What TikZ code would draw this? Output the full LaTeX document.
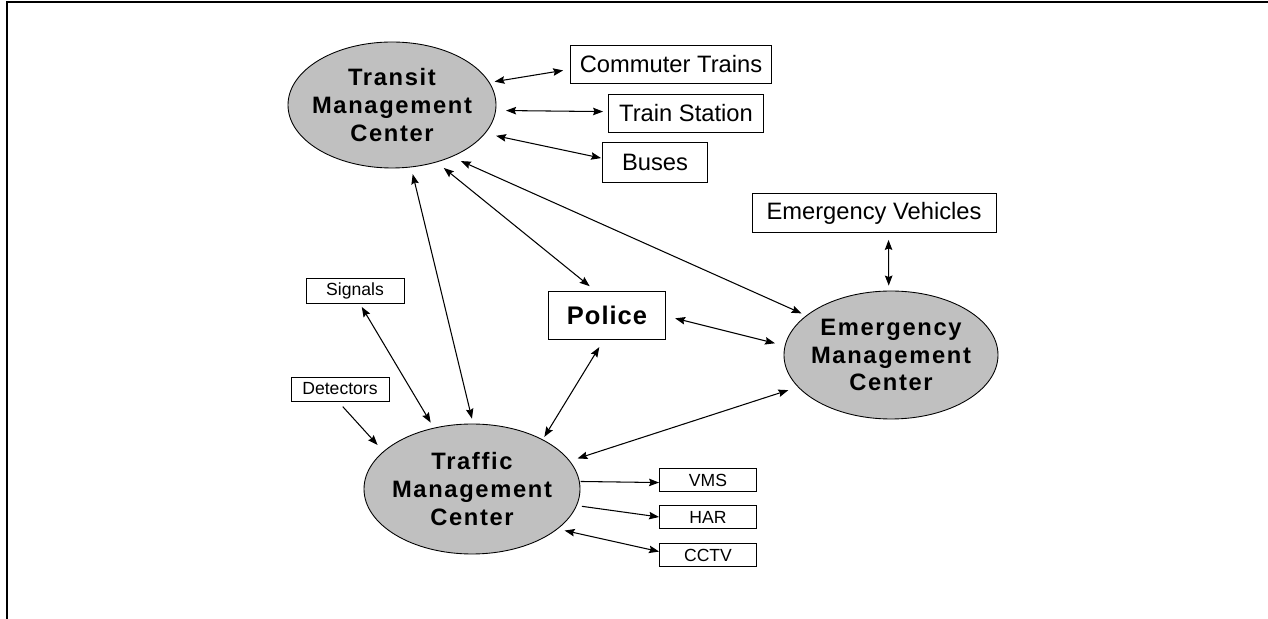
\documentclass[tikz,border=0pt]{standalone}
\usepackage{fontspec}
\setmainfont{Liberation Sans}
\newfontfamily\ovalfont[LetterSpace=7]{Liberation Sans}
\usetikzlibrary{shapes.geometric,arrows.meta}
\definecolor{hubgray}{RGB}{192,192,192}

\begin{document}
\begin{tikzpicture}[
  hub/.style={ellipse, draw, fill=hubgray, line width=0.5pt, inner xsep=-0.3cm, inner ysep=-0.3cm,
    align=center, font={\ovalfont\bfseries\fontsize{13.5}{15.9}\selectfont}},
  device/.style={rectangle, draw, line width=0.5pt, inner sep=0pt, font={\fontsize{13.5}{15}\selectfont}},
  minor/.style={rectangle, draw, line width=0.5pt, inner sep=0pt, font={\fontsize{10}{12}\selectfont}},
  duplex/.style={line width=0.6pt, {Stealth[length=2mm,width=1.5mm,inset=0.3mm]}-{Stealth[length=2mm,width=1.5mm,inset=0.3mm]}},
  simplex/.style={line width=0.6pt, -{Stealth[length=2mm,width=1.5mm,inset=0.3mm]}}
]
\useasboundingbox (0,0) rectangle (25.36,12.38);
% frame
\draw[line width=1.1pt] (0.14,0) -- (0.14,12.34) -- (25.36,12.34);

% centers
\node[hub, minimum width=4.16cm, minimum height=2.52cm] at (7.84,10.28) (transit) {Transit\\Management\\Center};
\node[hub, minimum width=4.28cm, minimum height=2.56cm] at (17.82,5.28) (emc) {Emergency\\Management\\Center};
\node[hub, minimum width=4.32cm, minimum height=2.60cm] at (9.44,2.60) (tmc) {Traffic\\Management\\Center};

% boxes
\node[device, minimum width=4.02cm, minimum height=0.76cm] at (13.42,11.10) (commuter) {Commuter Trains};
\node[device, minimum width=3.10cm, minimum height=0.76cm] at (13.72,10.12) (station) {Train Station};
\node[device, minimum width=2.10cm, minimum height=0.80cm] at (13.10,9.14) (buses) {Buses};
\node[device, minimum width=4.88cm, minimum height=0.78cm] at (17.48,8.12) (ev) {Emergency Vehicles};
\node[device, minimum width=2.34cm, minimum height=0.96cm, font={\bfseries\fontsize{14.5}{17}\selectfont\addfontfeature{LetterSpace=4}}] at (12.14,6.08) (police) {Police};

\node[minor, minimum width=1.96cm, minimum height=0.50cm] at (7.10,6.56) (signals) {Signals};
\node[minor, minimum width=1.96cm, minimum height=0.48cm] at (6.80,4.60) (detectors) {Detectors};
\node[minor, minimum width=1.94cm, minimum height=0.46cm] at (14.16,2.78) (vms) {VMS};
\node[minor, minimum width=1.94cm, minimum height=0.46cm] at (14.16,2.04) (har) {HAR};
\node[minor, minimum width=1.94cm, minimum height=0.46cm] at (14.16,1.28) (cctv) {CCTV};

% transit links
\draw[duplex, shorten <=0.1cm, shorten >=0.14cm] (transit.13) -- (commuter.183);
\draw[duplex, shorten <=0.2cm, shorten >=0.1cm] (transit.357) -- (station.179);
\draw[duplex, shorten <=0.22cm, shorten >=0.02cm] (transit.343) -- (buses.176);
\draw[duplex, shorten <=0.14cm, shorten >=0.1cm] (transit.287) -- (tmc.89);
\draw[duplex, shorten <=0.18cm, shorten >=0.14cm] (transit.308) -- (police.116);
\draw[duplex, shorten <=0.2cm, shorten >=0.1cm] (transit.319) -- (emc.155);

% emergency links
\draw[duplex, shorten <=0.14cm, shorten >=0.1cm] (ev.306) -- (emc.92);
\draw[duplex, shorten <=0.19cm, shorten >=0.2cm] (police.359) -- (emc.175);
\draw[duplex, shorten <=0.16cm, shorten >=0.2cm] (tmc.16) -- (emc.199);

% traffic links
\draw[duplex, shorten <=0.07cm, shorten >=0.12cm] (signals.291) -- (tmc.122);
\draw[simplex, shorten <=0.14cm, shorten >=0.17cm] (detectors.261) -- (tmc.157);
\draw[duplex, shorten <=0.18cm, shorten >=0.06cm] (police.263) -- (tmc.35);
\draw[simplex, shorten <=0.02cm] (tmc.4) -- (vms.183);
\draw[simplex, shorten <=0.1cm] (tmc.351) -- (har.west);
\draw[duplex, shorten <=0.14cm] (tmc.335) -- (cctv.176);
\end{tikzpicture}
\end{document}
